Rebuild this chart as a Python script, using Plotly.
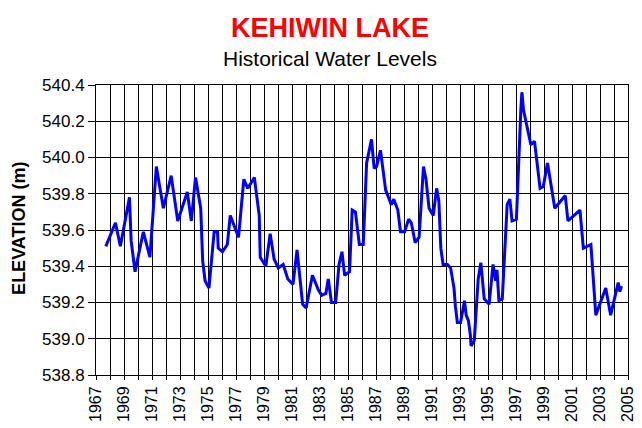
import plotly.graph_objects as go

years = [1967.70, 1968.39, 1968.74, 1969.39, 1969.51, 1969.79, 1970.38, 1970.85, 1971.31, 1971.81,
         1972.37, 1972.84, 1973.52, 1973.81, 1974.11, 1974.48, 1974.62, 1974.79, 1975.07, 1975.44,
         1975.68, 1975.73, 1976.03, 1976.38, 1976.59, 1977.18, 1977.56, 1977.84, 1978.31, 1978.66,
         1978.73, 1979.13, 1979.44, 1979.72, 1980.02, 1980.37, 1980.70, 1981.07, 1981.36, 1981.76,
         1982.01, 1982.46, 1982.88, 1983.12, 1983.42, 1983.59, 1983.82, 1984.12, 1984.36, 1984.57,
         1984.76, 1985.11, 1985.30, 1985.53, 1985.81, 1986.09, 1986.33, 1986.68, 1986.87, 1987.04,
         1987.32, 1987.69, 1988.09, 1988.27, 1988.56, 1988.75, 1989.05, 1989.33, 1989.52, 1989.80,
         1990.08, 1990.39, 1990.57, 1990.79, 1991.09, 1991.33, 1991.49, 1991.56, 1991.63, 1991.79,
         1992.10, 1992.33, 1992.43, 1992.57, 1992.67, 1992.81, 1993.04, 1993.32, 1993.44, 1993.60,
         1993.74, 1993.79, 1994.02, 1994.30, 1994.49, 1994.73, 1995.08, 1995.36, 1995.55, 1995.64,
         1995.78, 1996.02, 1996.37, 1996.56, 1996.72, 1997.03, 1997.35, 1997.42, 1997.54, 1997.82,
         1998.06, 1998.32, 1998.48, 1998.72, 1998.95, 1999.25, 1999.77, 2000.52, 2000.71, 2001.57,
         2001.81, 2002.35, 2002.70, 2003.41, 2003.76, 2004.30, 2004.42, 2004.53]

elevation = [539.51, 539.64, 539.51, 539.78, 539.54, 539.37, 539.59, 539.45, 539.95, 539.72,
             539.90, 539.65, 539.81, 539.65, 539.89, 539.72, 539.43, 539.32, 539.28, 539.59,
             539.59, 539.50, 539.48, 539.52, 539.68, 539.56, 539.88, 539.83, 539.89, 539.68,
             539.45, 539.40, 539.58, 539.44, 539.39, 539.41, 539.33, 539.30, 539.49, 539.19,
             539.17, 539.35, 539.27, 539.24, 539.25, 539.33, 539.20, 539.20, 539.41, 539.48,
             539.35, 539.37, 539.71, 539.70, 539.52, 539.52, 539.97, 540.10, 539.94, 539.95,
             540.04, 539.82, 539.74, 539.77, 539.71, 539.59, 539.59, 539.66, 539.64, 539.53,
             539.56, 539.95, 539.88, 539.72, 539.68, 539.83, 539.76, 539.63, 539.50, 539.41,
             539.41, 539.39, 539.35, 539.28, 539.18, 539.09, 539.09, 539.21, 539.13, 539.10,
             539.02, 538.96, 538.99, 539.33, 539.42, 539.22, 539.19, 539.41, 539.32, 539.38,
             539.21, 539.22, 539.74, 539.77, 539.65, 539.66, 540.27, 540.36, 540.26, 540.15,
             540.07, 540.09, 539.98, 539.83, 539.84, 539.97, 539.72, 539.79, 539.65, 539.71,
             539.50, 539.52, 539.13, 539.28, 539.13, 539.31, 539.26, 539.29]

x_ticks = list(range(1967, 2006))
x_labels = [str(y) if (y - 1967) % 2 == 0 else "" for y in x_ticks]
y_ticks = [538.8, 539.0, 539.2, 539.4, 539.6, 539.8, 540.0, 540.2, 540.4]

FONT = "Liberation Sans, Arial, sans-serif"

fig = go.Figure()
fig.add_trace(go.Scatter(x=years, y=elevation, mode="lines",
                         line=dict(color="#0000FF", width=3), showlegend=False))

fig.update_layout(
    width=634, height=420,
    margin=dict(l=88, r=6, t=77, b=50),
    paper_bgcolor="white", plot_bgcolor="white",
    font=dict(family=FONT, color="black", size=16),
    xaxis=dict(range=[1967, 2005], tickmode="array", tickvals=x_ticks, ticktext=x_labels,
               tickangle=-90, ticks="outside", ticklen=4, tickcolor="black",
               showgrid=True, gridcolor="black", gridwidth=1,
               showline=True, linecolor="black", linewidth=1, mirror=True,
               zeroline=False, tickfont=dict(size=16), ticklabeloverflow="allow"),
    yaxis=dict(range=[538.8, 540.4], tickmode="array", tickvals=y_ticks,
               ticktext=[f"{v:.1f}" for v in y_ticks],
               ticks="outside", ticklen=7, tickcolor="black",
               showgrid=True, gridcolor="black", gridwidth=1,
               showline=True, linecolor="black", linewidth=1, mirror=True,
               zeroline=False, tickfont=dict(size=17)),
    annotations=[
        dict(text="<b>KEHIWIN LAKE</b>", x=0.439, y=1.198, xref="paper", yref="paper",
             xanchor="center", yanchor="middle", showarrow=False,
             font=dict(size=27, color="#FF0000", family=FONT)),
        dict(text="Historical Water Levels", x=0.439, y=1.092, xref="paper", yref="paper",
             xanchor="center", yanchor="middle", showarrow=False,
             font=dict(size=21, color="black", family=FONT)),
        dict(text="<b>ELEVATION (m)</b>", x=-0.146, y=0.505, xref="paper", yref="paper",
             xanchor="center", yanchor="middle", showarrow=False, textangle=-90,
             font=dict(size=18, color="black", family=FONT)),
    ],
)

fig.write_html("out.html")
